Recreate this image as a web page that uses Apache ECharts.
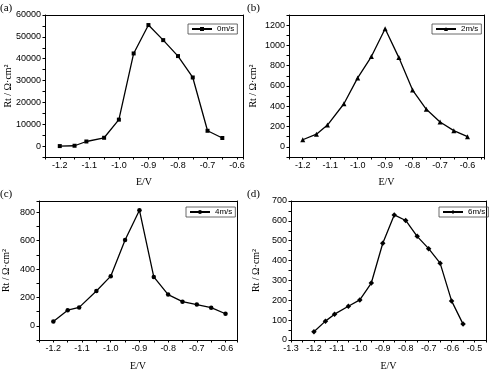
<!DOCTYPE html>
<html>
<head>
<meta charset="utf-8">
<script src="https://cdn.jsdelivr.net/npm/echarts@6/dist/echarts.min.js"></script>
<style>
  html, body { margin: 0; padding: 0; background: #fff; }
  #main { width: 491px; height: 372px; }
</style>
</head>
<body>
<div id="main"></div>
<script>
// potentials (V) and Rt values
const eA = [-1.2, -1.15, -1.11, -1.05, -1.0, -0.95, -0.9, -0.85, -0.8, -0.75, -0.7, -0.65];
const rtA = [0, 150, 2100, 3800, 12100, 42400, 55400, 48500, 41200, 31400, 7000, 3700];

const eB = [-1.2, -1.15, -1.11, -1.05, -1.0, -0.95, -0.9, -0.85, -0.8, -0.75, -0.7, -0.65, -0.6];
const rtB = [70, 125, 215, 425, 680, 890, 1165, 880, 560, 370, 245, 160, 100];

const eC = [-1.2, -1.15, -1.11, -1.05, -1.0, -0.95, -0.9, -0.85, -0.8, -0.75, -0.7, -0.65, -0.6];
const rtC = [30, 110, 130, 245, 350, 605, 815, 345, 220, 170, 150, 128, 85];

const eD = [-1.2, -1.15, -1.11, -1.05, -1.0, -0.95, -0.9, -0.85, -0.8, -0.75, -0.7, -0.65, -0.6, -0.55];
const rtD = [42, 95, 130, 170, 202, 287, 487, 630, 602, 522, 460, 387, 197, 80];

const names = ['0m/s', '2m/s', '4m/s', '6m/s'];
const panelLabels = ['(a)', '(b)', '(c)', '(d)'];
const yTitle = 'Rt / Ω·cm²';
const xTitle = 'E/V';

const serif = 'Liberation Serif';
const sans = 'Liberation Sans';

function every(step, digits) {
    return function (v) {
        const k = v / step;
        if (Math.abs(k - Math.round(k)) > 1e-6) return '';
        return digits ? v.toFixed(digits) : String(Math.round(v));
    };
}

function xAxis(i, min, max, gap) {
    return {
        type: 'value', gridIndex: i, min: min, max: max, interval: 0.05,
        name: xTitle, nameLocation: 'middle', nameGap: gap, nameMoveOverlap: false,
        nameTextStyle: { fontFamily: serif, fontSize: 10, color: '#000' },
        axisLine: { onZero: false, lineStyle: { color: '#000', width: 1 } },
        axisTick: { length: 2.5, lineStyle: { color: '#000' } },
        axisLabel: { fontFamily: sans, fontSize: 9, color: '#000', margin: 4, formatter: every(0.1, 1) },
        splitLine: { show: false }
    };
}

function yAxis(i, min, max, interval, step, gap) {
    return {
        type: 'value', gridIndex: i, min: min, max: max, interval: interval,
        name: yTitle, nameLocation: 'middle', nameGap: gap, nameRotate: 90, nameMoveOverlap: false,
        nameTextStyle: { fontFamily: serif, fontSize: 10, color: '#000' },
        axisLine: { onZero: false, lineStyle: { color: '#000', width: 1 } },
        axisTick: { length: 2.5, lineStyle: { color: '#000' } },
        axisLabel: { fontFamily: sans, fontSize: 9, color: '#000', margin: 4, formatter: every(step, 0) },
        splitLine: { show: false }
    };
}

// plain top / right edges of the frame
function edge(i, pos, min, max) {
    return {
        type: 'value', gridIndex: i, position: pos, min: min, max: max,
        axisLine: { show: true, onZero: false, lineStyle: { color: '#000', width: 1 } },
        axisTick: { show: false }, axisLabel: { show: false }, splitLine: { show: false }
    };
}

function line(i, name, xs, ys, symbol, size) {
    return {
        name: name, type: 'line', xAxisIndex: i, yAxisIndex: i,
        data: xs.map((x, k) => [x, ys[k]]),
        symbol: symbol, symbolSize: size, showSymbol: true,
        lineStyle: { color: '#000', width: 1.3 },
        itemStyle: { color: '#000' },
        animation: false
    };
}

function legend(left, top, name) {
    return {
        left: left, top: top, data: [name],
        borderColor: '#444', borderWidth: 0.8, padding: [1, 3, 1, 3],
        itemWidth: 20, itemHeight: 5,
        textStyle: { fontFamily: sans, fontSize: 8, color: '#000' }
    };
}

const chart = echarts.init(document.getElementById('main'), null, { renderer: 'canvas' });

chart.setOption({
    animation: false,
    backgroundColor: '#fff',
    grid: [
        { left: 45, top: 15, width: 198, height: 142 },
        { left: 289, top: 15, width: 195, height: 142 },
        { left: 39, top: 201, width: 198, height: 144 },
        { left: 291, top: 201, width: 195, height: 144 }
    ],
    xAxis: [
        xAxis(0, -1.25, -0.58, 20),
        xAxis(1, -1.25, -0.54, 20),
        xAxis(2, -1.25, -0.56, 21),
        xAxis(3, -1.3, -0.45, 21),
        edge(0, 'top', -1.25, -0.58),
        edge(1, 'top', -1.25, -0.54),
        edge(2, 'top', -1.25, -0.56),
        edge(3, 'top', -1.3, -0.45)
    ],
    yAxis: [
        yAxis(0, -5000, 60000, 5000, 10000, 32),
        yAxis(1, -100, 1300, 100, 200, 31),
        yAxis(2, -100, 880, 100, 200, 28),
        yAxis(3, 0, 700, 50, 100, 30),
        edge(0, 'right', -5000, 60000),
        edge(1, 'right', -100, 1300),
        edge(2, 'right', -100, 880),
        edge(3, 'right', 0, 700)
    ],
    legend: [
        legend(188, 24, names[0]),
        legend(432, 24, names[1]),
        legend(186, 207, names[2]),
        legend(439, 207, names[3])
    ],
    series: [
        line(0, names[0], eA, rtA, 'rect', 4),
        line(1, names[1], eB, rtB, 'triangle', 5),
        line(2, names[2], eC, rtC, 'circle', 4.5),
        line(3, names[3], eD, rtD, 'diamond', 5.5)
    ],
    graphic: [
        { type: 'text', left: 0, top: 3, style: { text: panelLabels[0], font: '11px ' + serif, fill: '#000' } },
        { type: 'text', left: 247, top: 3, style: { text: panelLabels[1], font: '11px ' + serif, fill: '#000' } },
        { type: 'text', left: 0, top: 189, style: { text: panelLabels[2], font: '11px ' + serif, fill: '#000' } },
        { type: 'text', left: 247, top: 189, style: { text: panelLabels[3], font: '11px ' + serif, fill: '#000' } }
    ]
});
</script>
</body>
</html>
